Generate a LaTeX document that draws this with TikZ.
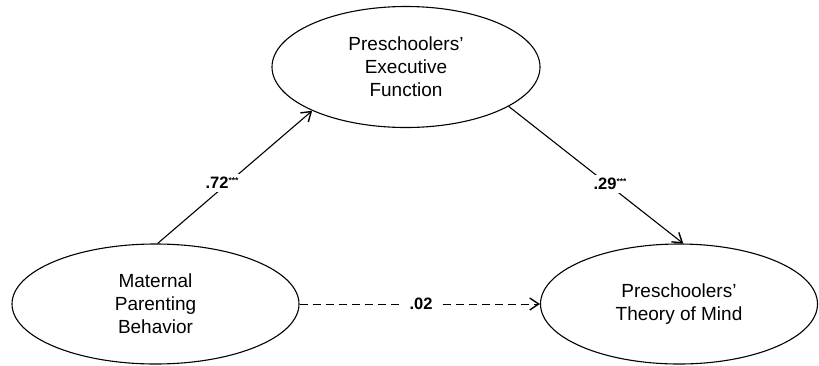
\documentclass[tikz,border=0pt]{standalone}
\usepackage{fontspec}
\setmainfont{Liberation Sans}
\usetikzlibrary{shapes.geometric,arrows.meta}
\newcommand{\sigstars}{\raisebox{5pt}{\fontsize{8.5}{9}\selectfont ***}}
\begin{document}
\begin{tikzpicture}[x=1pt,y=-1pt,
  latent/.style={draw,ellipse,line width=1.1pt,inner sep=0pt,align=center,
    font=\fontsize{19}{23}\selectfont},
  path/.style={line width=1.1pt,-{Straight Barb[length=9pt,width=12pt,line width=1.4pt]}},
  coef/.style={fill=white,inner sep=3pt,font=\bfseries\fontsize{16.5}{18}\selectfont}]
\useasboundingbox (0,0) rectangle (819,365);
\node[latent,minimum width=268pt,minimum height=121pt] (ef) at (406,67)
  {Preschoolers'\\Executive\\Function};
\node[latent,minimum width=287pt,minimum height=120pt] (mp) at (155.5,304)
  {Maternal\\Parenting\\Behavior};
\node[latent,minimum width=277pt,minimum height=120pt] (tm) at (679,304)
  {Preschoolers'\\Theory of Mind};
\draw[path] (mp.88) -- (ef.205);
\draw[path] (ef.339) -- (tm.86);
\draw[path,line width=1pt,dash pattern=on 8pt off 5pt] (mp.east) -- (tm.west);
\node[coef] (c1) at (222,183) {.72\sigstars};
\node[coef] (c2) at (610,184) {.29\sigstars};
\node[coef,inner xsep=9pt] (c3) at (421,304) {.02};
\end{tikzpicture}
\end{document}
